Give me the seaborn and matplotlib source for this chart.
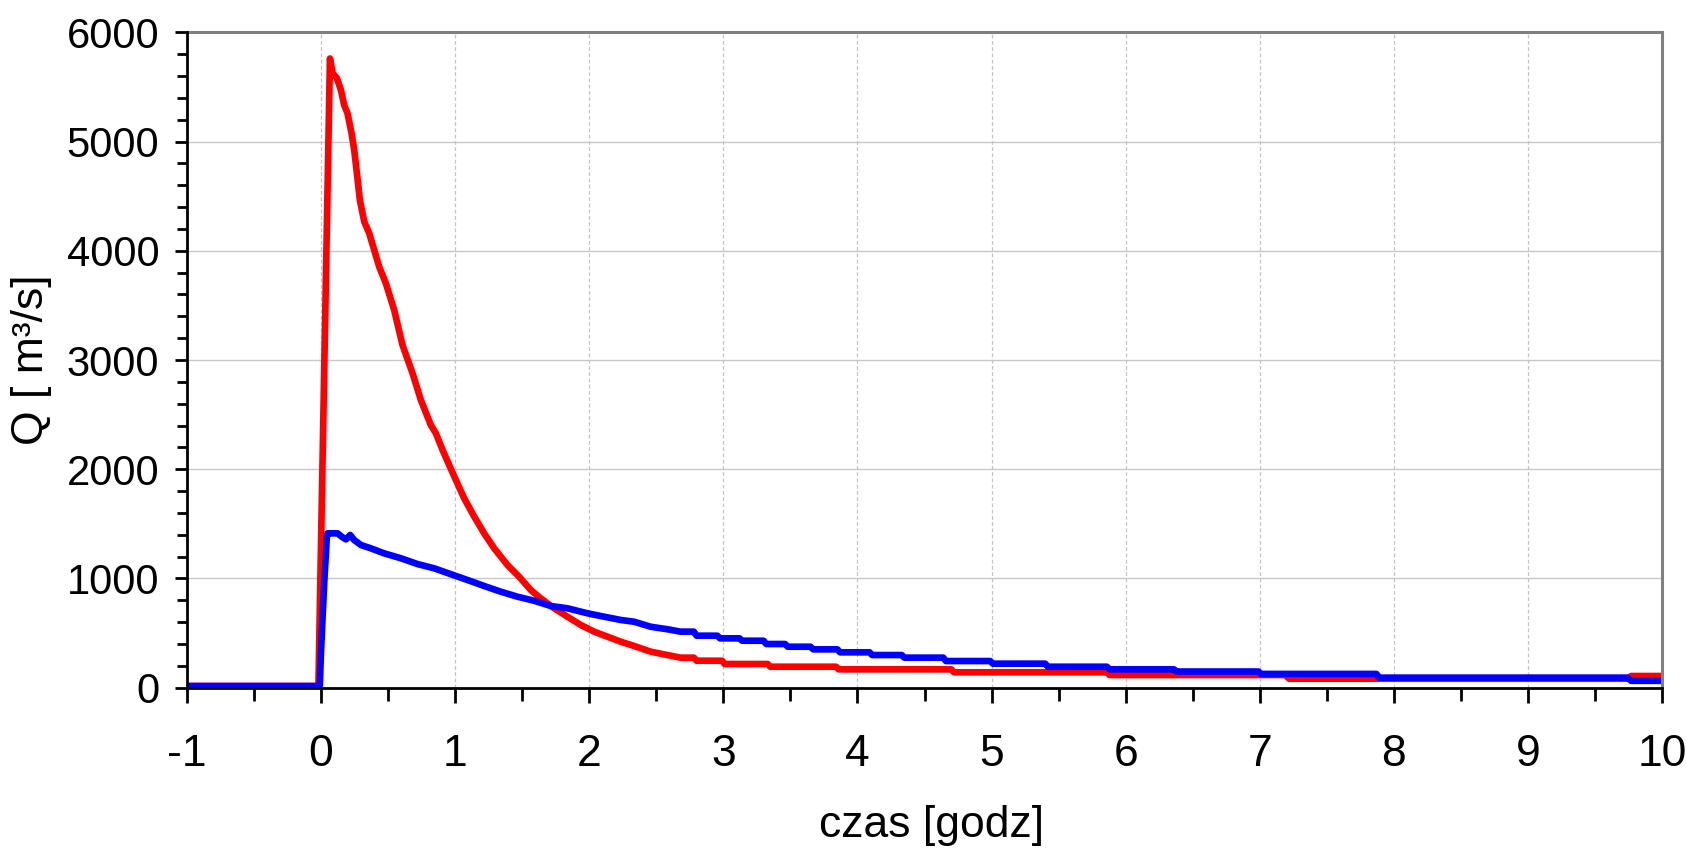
import numpy as np
import pandas as pd
import matplotlib
matplotlib.use("Agg")
import matplotlib.pyplot as plt
from matplotlib.ticker import MultipleLocator
import seaborn as sns

# ---- data ----
t_red = [-1, -0.02, 0.066, 0.086, 0.118, 0.148, 0.172, 0.197, 0.227, 0.247, 0.267, 0.289,
         0.322, 0.359, 0.396, 0.433, 0.483, 0.545, 0.607, 0.682, 0.744, 0.818, 0.856, 0.906,
         0.955, 1.005, 1.067, 1.142, 1.216, 1.291, 1.39, 1.477, 1.564, 1.638, 1.738, 1.837,
         1.937, 2.036, 2.136, 2.235, 2.334, 2.458, 2.583, 2.68, 2.78, 2.80, 2.99, 3.01, 3.33,
         3.35, 3.84, 3.86, 4.70, 4.72, 5.86, 5.88, 7.19, 7.22, 9.74, 9.77, 10]
q_red = [15, 15, 5760, 5625, 5580, 5470, 5335, 5258, 5075, 4923, 4709, 4465,
         4266, 4160, 4007, 3854, 3702, 3458, 3137, 2878, 2634, 2405, 2329, 2176,
         2039, 1902, 1734, 1566, 1413, 1276, 1123, 1016, 894, 818, 727, 650,
         574, 513, 467, 421, 382, 330, 299, 275, 275, 247, 247, 217, 217,
         192, 192, 168, 168, 141, 141, 116, 116, 82, 82, 107, 107]

t_blue = [-1, -0.01, 0.0, 0.023, 0.043, 0.048, 0.123, 0.16, 0.185, 0.217, 0.247, 0.297,
          0.371, 0.47, 0.595, 0.719, 0.843, 1.005, 1.092, 1.216, 1.34, 1.465, 1.589, 1.713,
          1.837, 1.987, 2.086, 2.235, 2.334, 2.458, 2.583, 2.68, 2.78, 2.80, 2.955, 2.975,
          3.12, 3.14, 3.30, 3.32, 3.46, 3.48, 3.65, 3.67, 3.85, 3.87, 4.09, 4.11, 4.33, 4.35,
          4.64, 4.66, 4.99, 5.01, 5.40, 5.42, 5.86, 5.88, 6.36, 6.38, 6.99, 7.01, 7.87, 7.89,
          9.74, 9.77, 10]
q_blue = [15, 15, 350, 956, 1383, 1413, 1413, 1377, 1358, 1398, 1352, 1306,
          1276, 1230, 1185, 1132, 1093, 1023, 986, 931, 879, 833, 796, 748,
          727, 681, 656, 620, 604, 558, 535, 513, 513, 476, 476, 452,
          452, 430, 430, 400, 400, 375, 375, 351, 351, 324, 324, 299, 299, 275,
          275, 244, 244, 220, 220, 192, 192, 168, 168, 148, 148, 126, 126, 92,
          92, 63, 63]

x_ticks = list(range(-1, 11))
y_ticks = [0, 1000, 2000, 3000, 4000, 5000, 6000]
x_label = "czas [godz]"
y_label = "Q [ m³/s]"

assert len(t_red) == len(q_red) and len(t_blue) == len(q_blue)

sns.set_theme(style="white")
plt.rcParams["font.family"] = ["Liberation Sans Narrow", "Liberation Sans", "DejaVu Sans"]
plt.rcParams["axes.unicode_minus"] = False
plt.rcParams["text.color"] = "black"
plt.rcParams["axes.labelcolor"] = "black"
plt.rcParams["xtick.color"] = "black"
plt.rcParams["ytick.color"] = "black"

fig = plt.figure(figsize=(16.86, 8.52), dpi=100)
ax = fig.add_axes([187 / 1686, 1 - 687.7 / 852, (1662 - 187) / 1686, (687.7 - 32.3) / 852])

df_red = pd.DataFrame({"t": t_red, "Q": q_red})
df_blue = pd.DataFrame({"t": t_blue, "Q": q_blue})
sns.lineplot(data=df_red, x="t", y="Q", ax=ax, color="#ff0000", linewidth=4.8,
             estimator=None, sort=False, zorder=3)
sns.lineplot(data=df_blue, x="t", y="Q", ax=ax, color="#0000ff", linewidth=4.8,
             estimator=None, sort=False, zorder=4)

ax.set_xlim(-1, 10)
ax.set_ylim(0, 6000)
ax.set_xticks(x_ticks)
ax.set_yticks(y_ticks)
ax.xaxis.set_minor_locator(MultipleLocator(0.5))
ax.yaxis.set_minor_locator(MultipleLocator(200))

ax.grid(False)
for yv in y_ticks[1:-1]:
    ax.axhline(yv, color="#c8c8c8", lw=1.0, zorder=1)
for xv in x_ticks[1:-1]:
    ax.axvline(xv, color="#c4c4c4", lw=0.9, ls=(0, (3, 2)), zorder=1)

for s in ["left", "bottom"]:
    ax.spines[s].set_color("black")
    ax.spines[s].set_linewidth(2.0)
    ax.spines[s].set_zorder(6)
for s in ["top", "right"]:
    ax.spines[s].set_color("#808080")
    ax.spines[s].set_linewidth(2.2)
    ax.spines[s].set_zorder(5)

ax.tick_params(axis="y", which="major", direction="out", length=9, width=2,
               left=True, right=False, labelsize=30, pad=11, labelcolor="black")
ax.tick_params(axis="y", which="minor", direction="out", length=7, width=2,
               left=True, right=False)
ax.tick_params(axis="x", which="major", direction="out", length=11, width=2,
               bottom=True, top=False, labelsize=32, pad=22, labelcolor="black")
ax.tick_params(axis="x", which="minor", direction="out", length=9, width=2,
               bottom=True, top=False)

ax.set_xlabel(x_label, fontsize=32, color="black")
ax.set_ylabel(y_label, fontsize=32, color="black")
ax.xaxis.set_label_coords(0.5 + (931 - 924.5) / 1475, -(805 - 687.7) / 655.4)
ax.yaxis.set_label_coords(-(187 - 52) / 1475, 0.5)

fig.savefig("out.png", dpi=100, facecolor="white")
